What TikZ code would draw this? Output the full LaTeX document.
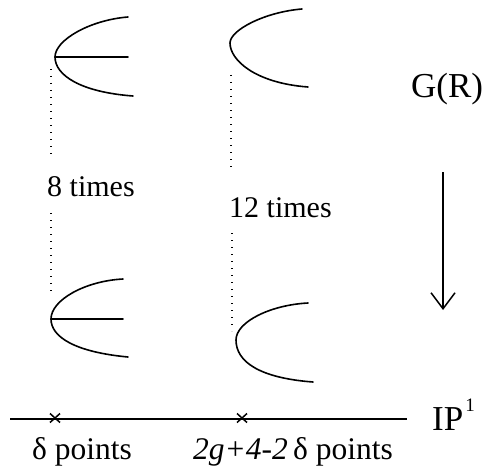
\documentclass[tikz,border=0pt]{standalone}
\usepackage{fontspec}
\setmainfont{Liberation Serif}
\usetikzlibrary{arrows.meta,calc}
\tikzset{
  curve/.style={line width=1.6pt, line cap=round},
  dots/.style={line width=1.2pt, dash pattern=on 1.2pt off 5.8pt},
  lbl/.style={anchor=base west, inner sep=0pt, font=\fontsize{30}{36}\selectfont},
  biglbl/.style={anchor=base west, inner sep=0pt, font=\fontsize{35}{40}\selectfont},
  botlbl/.style={anchor=base west, inner sep=0pt, font=\fontsize{31.5}{36}\selectfont},
  crossmark/.style={line width=1.5pt},
}
\begin{document}
\begin{tikzpicture}[x=1pt,y=-1pt]
\useasboundingbox (0,0) rectangle (486,468);
% top-left fibre (with middle line)
\draw[curve] (128,17) .. controls (90,20) and (55,40) .. (55,57) coordinate (v1)
   .. controls (55,75) and (80,92) .. (133,96);
\draw[curve] (v1) -- (128,57);
% top-right fibre
\draw[curve] (302,9) .. controls (265,12) and (230,30) .. (230,43)
   .. controls (230,60) and (255,83) .. (308,87);
% bottom-left fibre (with middle line)
\draw[curve] (123,279) .. controls (85,281) and (51,300) .. (51,319) coordinate (v3)
   .. controls (51,337) and (75,352) .. (128,357);
\draw[curve] (v3) -- (123,319);
% bottom-right fibre
\draw[curve] (308,303) .. controls (270,305) and (236,322) .. (236,340)
   .. controls (236,362) and (260,378) .. (313,382);
% dotted lines
\coordinate (d1a) at (51,69);  \coordinate (d1b) at (51,158);
\coordinate (d1c) at (51,213); \coordinate (d1d) at (51,294);
\coordinate (d2a) at (231,75); \coordinate (d2b) at (231,171);
\coordinate (d2c) at (232,233); \coordinate (d2d) at (232,331);
\draw[dots] (d1a) -- (d1b);
\draw[dots] (d1c) -- (d1d);
\draw[dots] (d2a) -- (d2b);
\draw[dots] (d2c) -- (d2d);
% labels
\node[lbl] (t8) at (47,196) {8 times};
\node[lbl] (t12) at (229,217) {12 times};
\node[biglbl] (gr) at (411,98) {G(R)};
% arrow
\coordinate (a1) at (443,172);
\coordinate (a2) at (443,310);
\draw[line width=1.5pt, -{Straight Barb[length=16pt,width=24pt,line width=1.5pt]}] (a1) -- (a2);
% axis
\coordinate (l0) at (10,419);
\coordinate (l1) at (407,419);
\draw[line width=1.5pt] (l0) -- (l1);
\coordinate (x1) at (55,418);
\coordinate (x2) at (242,418);
\draw[crossmark] ($(x1)+(-5,-4.5)$) -- ($(x1)+(5,4.5)$);
\draw[crossmark] ($(x1)+(-5,4.5)$) -- ($(x1)+(5,-4.5)$);
\draw[crossmark] ($(x2)+(-5,-4.5)$) -- ($(x2)+(5,4.5)$);
\draw[crossmark] ($(x2)+(-5,4.5)$) -- ($(x2)+(5,-4.5)$);
\node[biglbl] (ip) at (432,430) {IP\kern2pt\raisebox{19pt}{\fontsize{19}{20}\selectfont 1}};
\node[botlbl] (dp) at (32,459) {δ points};
\node[botlbl] (gp) at (193,459) {\textit{2g+4-2}\,δ points};
\end{tikzpicture}
\end{document}
